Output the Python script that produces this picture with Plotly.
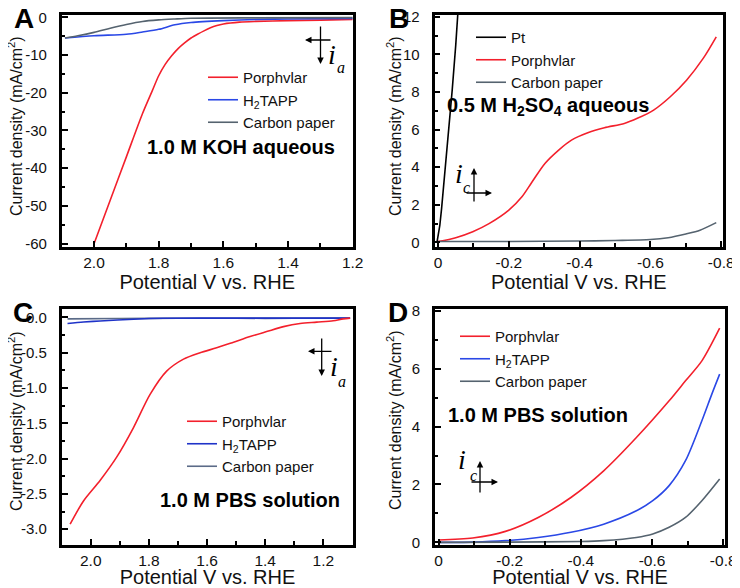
import plotly.graph_objects as go

# ---------------- data ----------------
# Panel A (1.0 M KOH, anodic)
a_por_v = [2.0, 1.95, 1.90, 1.85, 1.82, 1.80, 1.78, 1.76, 1.74, 1.72, 1.70, 1.68, 1.66, 1.64, 1.62, 1.60, 1.55, 1.50, 1.40, 1.30, 1.20]
a_por_j = [-60, -48.5, -37, -25.5, -19.5, -15.5, -12.5, -10.2, -8.3, -6.8, -5.5, -4.5, -3.6, -2.8, -2.2, -1.8, -1.3, -1.1, -0.9, -0.75, -0.55]
a_h2t_v = [2.09, 2.0, 1.9, 1.85, 1.80, 1.75, 1.70, 1.60, 1.50, 1.40, 1.20]
a_h2t_j = [-5.5, -4.9, -4.5, -3.9, -3.2, -2.0, -1.4, -0.9, -0.6, -0.45, -0.3]
a_cp_v = [2.09, 2.05, 2.0, 1.95, 1.90, 1.85, 1.80, 1.75, 1.70, 1.50, 1.20]
a_cp_j = [-5.5, -4.9, -4.0, -2.9, -1.9, -1.1, -0.7, -0.45, -0.25, -0.15, -0.1]

# Panel B (0.5 M H2SO4, cathodic)
b_pt_v = [0.003, -0.005, -0.01, -0.02, -0.03, -0.04, -0.05, -0.056]
b_pt_j = [0.0, 0.9, 1.8, 3.8, 5.9, 8.1, 10.5, 12.2]
b_por_v = [0.0, -0.05, -0.098, -0.144, -0.2, -0.237, -0.265, -0.302, -0.34, -0.377, -0.423, -0.47, -0.526, -0.563, -0.609, -0.656, -0.702, -0.749, -0.786]
b_por_j = [0.04, 0.25, 0.57, 1.0, 1.72, 2.43, 3.2, 4.2, 4.9, 5.44, 5.83, 6.1, 6.33, 6.6, 7.04, 7.75, 8.63, 9.79, 10.94]
b_cp_v = [0.0, -0.2, -0.4, -0.5, -0.6, -0.65, -0.7, -0.74, -0.786]
b_cp_j = [0.05, 0.05, 0.07, 0.1, 0.15, 0.25, 0.45, 0.65, 1.05]

# Panel C (1.0 M PBS, anodic)
c_por_v = [2.071, 2.025, 1.968, 1.911, 1.853, 1.796, 1.739, 1.681, 1.624, 1.567, 1.509, 1.452, 1.395, 1.337, 1.28, 1.223, 1.166, 1.132, 1.108]
c_por_j = [-2.93, -2.6, -2.31, -1.98, -1.56, -1.09, -0.76, -0.59, -0.50, -0.43, -0.35, -0.27, -0.2, -0.13, -0.085, -0.066, -0.047, -0.02, -0.01]
c_h2t_v = [2.08, 2.025, 1.968, 1.853, 1.75, 1.5, 1.3, 1.108]
c_h2t_j = [-0.085, -0.065, -0.05, -0.025, -0.012, -0.01, -0.01, -0.01]
c_cp_v = [2.08, 1.9, 1.7, 1.5, 1.3, 1.108]
c_cp_j = [-0.02, -0.015, -0.012, -0.012, -0.012, -0.01]

# Panel D (1.0 M PBS, cathodic)
d_por_v = [0.0, -0.096, -0.188, -0.28, -0.372, -0.464, -0.556, -0.648, -0.694, -0.74, -0.79]
d_por_j = [0.08, 0.15, 0.38, 0.86, 1.55, 2.47, 3.62, 4.89, 5.58, 6.27, 7.4]
d_h2t_v = [0.0, -0.096, -0.188, -0.28, -0.372, -0.464, -0.556, -0.602, -0.648, -0.694, -0.74, -0.768, -0.79]
d_h2t_j = [0.0, 0.01, 0.06, 0.17, 0.35, 0.63, 1.09, 1.44, 1.96, 2.82, 4.2, 5.12, 5.81]
d_cp_v = [0.0, -0.2, -0.4, -0.464, -0.556, -0.602, -0.648, -0.694, -0.74, -0.79]
d_cp_j = [0.0, 0.01, 0.03, 0.06, 0.17, 0.29, 0.52, 0.86, 1.44, 2.19]

# tick labels
ax_tickvals = [2.0, 1.8, 1.6, 1.4, 1.2]
ax_ticktext = ["2.0", "1.8", "1.6", "1.4", "1.2"]
ay_tickvals = [0, -10, -20, -30, -40, -50, -60]
ay_ticktext = ["0", "-10", "-20", "-30", "-40", "-50", "-60"]
bx_tickvals = [0, -0.2, -0.4, -0.6, -0.8]
bx_ticktext = ["0", "-0.2", "-0.4", "-0.6", "-0.8"]
by_tickvals = [0, 2, 4, 6, 8, 10, 12]
by_ticktext = ["0", "2", "4", "6", "8", "10", "12"]
cy_tickvals = [0, -0.5, -1.0, -1.5, -2.0, -2.5, -3.0]
cy_ticktext = ["0.0", "-0.5", "-1.0", "-1.5", "-2.0", "-2.5", "-3.0"]
dy_tickvals = [0, 2, 4, 6, 8]
dy_ticktext = ["0", "2", "4", "6", "8"]

X_TITLE = "Potential V vs. RHE"
Y_TITLE = "Current density (mA/cm<sup>2</sup>)"

RED = "#f3202c"
BLUE = "#2a48e6"
GRAY = "#55636f"
BLUE_C = "#1f33c8"
GRAY_C = "#5b6b88"
BLACK = "#000000"

# the page body has an 8px margin; size the figure to fill the rest of the window
OFF = 8
W, H = 740 - OFF, 588 - OFF
def fx(p): return (p - OFF) / W
def fy(p): return 1 - (p - OFF) / H

FONT = "Liberation Sans, Arial, sans-serif"

fig = go.Figure()

def add(x, y, name, color, xa, ya, leg, shape="spline", width=1.6):
    fig.add_trace(go.Scatter(x=x, y=y, name=name, mode="lines",
                             line=dict(color=color, width=width, shape=shape, smoothing=0.8),
                             xaxis=xa, yaxis=ya, legend=leg))

add(a_por_v, a_por_j, "Porphvlar", RED, "x", "y", "legend")
add(a_h2t_v, a_h2t_j, "H<sub>2</sub>TAPP", BLUE, "x", "y", "legend")
add(a_cp_v, a_cp_j, "Carbon paper", GRAY, "x", "y", "legend")

add(b_pt_v, b_pt_j, "Pt", BLACK, "x2", "y2", "legend2", shape="linear")
add(b_por_v, b_por_j, "Porphvlar", RED, "x2", "y2", "legend2")
add(b_cp_v, b_cp_j, "Carbon paper", GRAY, "x2", "y2", "legend2")

add(c_cp_v, c_cp_j, "Carbon paper", GRAY_C, "x3", "y3", "legend3")
add(c_h2t_v, c_h2t_j, "H<sub>2</sub>TAPP", BLUE_C, "x3", "y3", "legend3")
add(c_por_v, c_por_j, "Porphvlar", RED, "x3", "y3", "legend3")

add(d_por_v, d_por_j, "Porphvlar", RED, "x4", "y4", "legend4")
add(d_h2t_v, d_h2t_j, "H<sub>2</sub>TAPP", BLUE, "x4", "y4", "legend4")
add(d_cp_v, d_cp_j, "Carbon paper", GRAY, "x4", "y4", "legend4")

def xax(dom, rng, tv, tt, minor_dt):
    return dict(domain=[fx(dom[0]), fx(dom[1])], range=rng, tickvals=tv, ticktext=tt,
                ticks="inside", ticklen=6, tickwidth=2.2, tickcolor="black", automargin=False,
                minor=dict(ticks="inside", ticklen=3.5, tickwidth=2, dtick=minor_dt, tickcolor="black"),
                showline=True, linewidth=2.6, linecolor="black", mirror=True,
                showgrid=False, zeroline=False,
                tickfont=dict(family=FONT, size=15.5, color="#111"),
                title=dict(text=X_TITLE, font=dict(family=FONT, size=20, color="#111"), standoff=1))

def yax(dom, rng, tv, tt, minor_dt, anchor):
    return dict(domain=[fy(dom[1]), fy(dom[0])], range=rng, tickvals=tv, ticktext=tt, anchor=anchor,
                ticks="inside", ticklen=6, tickwidth=2.2, tickcolor="black", automargin=False,
                minor=dict(ticks="inside", ticklen=3.5, tickwidth=2, dtick=minor_dt, tickcolor="black"),
                showline=True, linewidth=2.6, linecolor="black", mirror=True,
                showgrid=False, zeroline=False, ticklabelstandoff=9,
                tickfont=dict(family=FONT, size=15, color="#111"))

A_X, A_Y = (61.7, 352.7), (15, 246.7)
B_X, B_Y = (434.5, 723), (15, 246.7)
C_X, C_Y = (61.7, 353.3), (309, 544.7)
D_X, D_Y = (435, 725), (309, 544.7)

fig.update_layout(
    width=W, height=H, margin=dict(l=0, r=0, t=0, b=0, autoexpand=False),
    paper_bgcolor="white", plot_bgcolor="white",
    font=dict(family=FONT, color="#111"),
    xaxis=dict(xax(A_X, [2.1, 1.2], ax_tickvals, ax_ticktext, 0.1), anchor="y"),
    yaxis=yax(A_Y, [-60.8, 0.6], ay_tickvals, ay_ticktext, 5, "x"),
    xaxis2=dict(xax(B_X, [0.01, -0.805], bx_tickvals, bx_ticktext, 0.1), anchor="y2"),
    yaxis2=yax(B_Y, [-0.23, 12.1], by_tickvals, by_ticktext, 1, "x2"),
    xaxis3=dict(xax(C_X, [2.1, 1.097], ax_tickvals, ax_ticktext, 0.1), anchor="y3"),
    yaxis3=yax(C_Y, [-3.22, 0.12], cy_tickvals, cy_ticktext, 0.25, "x3"),
    xaxis4=dict(xax(D_X, [0.01, -0.805], bx_tickvals, bx_ticktext, 0.1), anchor="y4"),
    yaxis4=yax(D_Y, [-0.08, 8.06], dy_tickvals, dy_ticktext, 1, "x4"),
    showlegend=True,
)

def leg(xp, yp):
    return dict(x=fx(xp), y=fy(yp), xanchor="left", yanchor="top", bgcolor="rgba(0,0,0,0)",
                font=dict(family=FONT, size=15, color="#111"), itemwidth=30, tracegroupgap=0,
                traceorder="normal")

fig.update_layout(legend=leg(203, 61), legend2=leg(471, 21),
                  legend3=dict(leg(182, 405), traceorder="reversed"), legend4=leg(455, 320))

ann = []
def txt_ann(text, xp, yp, size, family=FONT, angle=0, color="black"):
    ann.append(dict(text=text, x=fx(xp), y=fy(yp), xref="paper", yref="paper",
                    xanchor="center", yanchor="middle", showarrow=False, textangle=angle,
                    font=dict(family=family, size=size, color=color)))

# y-axis titles
for xp, yp in [(15, 126), (394, 126), (15, 421), (394, 420)]:
    txt_ann(Y_TITLE, xp, yp, 16, angle=-90, color="#111")

for t, xp, yp in [("A", 24, 18), ("B", 399, 18), ("C", 23, 312), ("D", 398, 312)]:
    txt_ann("<b>%s</b>" % t, xp, yp, 28)
for t, xp, yp in [("1.0 M KOH aqueous", 241, 147), ("0.5 M H<sub>2</sub>SO<sub>4</sub> aqueous", 548, 106),
                  ("1.0 M PBS solution", 250, 500), ("1.0 M PBS solution", 538, 415)]:
    txt_ann("<b>%s</b>" % t, xp, yp, 20)

def arrow(hx, hy, tx, ty):
    ann.append(dict(x=fx(hx), y=fy(hy), xref="paper", yref="paper", ax=tx - hx, ay=ty - hy,
                    showarrow=True, arrowhead=2, arrowsize=1, arrowwidth=1.3, arrowcolor="black", text=""))

SERIF = "Liberation Serif, Times New Roman, serif"
def sym(ix, iy, sub, sx, sy):
    txt_ann("<i>i</i>", ix, iy, 28, SERIF)
    txt_ann("<i>%s</i>" % sub, sx, sy, 16, SERIF)

# A
arrow(320.5, 64, 320.5, 25); arrow(305, 40, 332, 40); sym(332, 54, "a", 341, 68)
# B
arrow(474, 168, 474, 203); arrow(492, 193, 465, 193); sym(459, 173, "c", 466, 188)
# C
arrow(321.7, 376, 321.7, 337); arrow(308, 351.3, 333, 351.3); sym(334, 366, "a", 342, 381)
# D
arrow(480, 461, 480, 494); arrow(498, 482, 470, 482); sym(462, 459, "c", 473, 475)

fig.update_layout(annotations=ann)
fig.write_html("out.html")
